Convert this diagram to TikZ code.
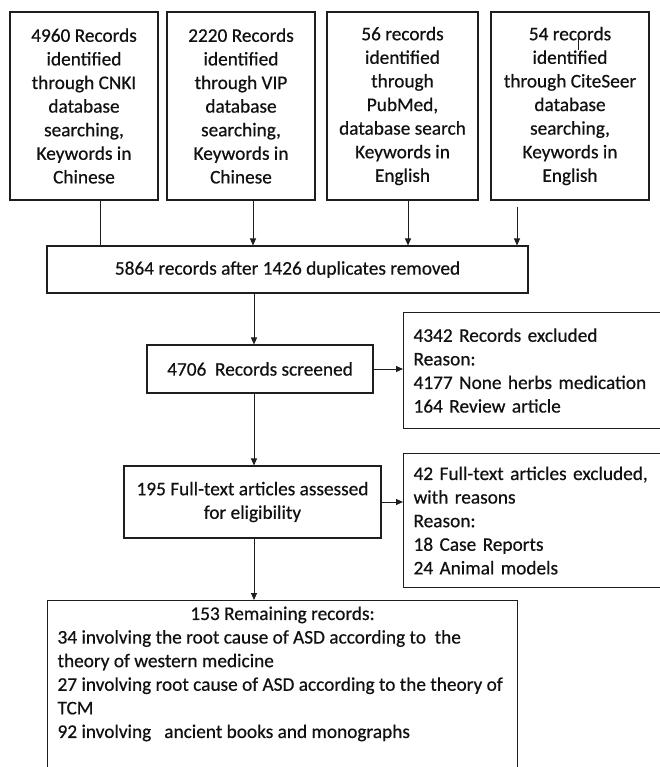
\documentclass[tikz,border=0pt]{standalone}
\usepackage{fontspec}
\setmainfont{Carlito}
\newfontfamily\dgfam[FakeBold=0.5]{Carlito}
\usetikzlibrary{arrows.meta}
\definecolor{linec}{HTML}{1E1E1E}
\definecolor{txt}{HTML}{111111}
\newcommand\dgfont{\dgfam\fontsize{19.3}{23.6}\selectfont}
\begin{document}
\begin{tikzpicture}[x=1pt,y=-1pt,
  box/.style={draw=linec, line width=1.1pt, inner sep=2pt, align=center, font=\dgfont, text=txt},
  lbox/.style={draw=linec, line width=1.1pt, inner xsep=10pt, inner ysep=3pt, align=left, text width=250pt, font=\dgfont, text=txt, anchor=north west},
  arr/.style={draw=linec, line width=1pt, -{Triangle[length=7pt,width=6pt]}},
  ln/.style={draw=linec, line width=1pt}]
\useasboundingbox (0,0) rectangle (660,767);
\fill[white] (0,0) rectangle (660,767);
\clip (0,0) rectangle (660,767);

% top boxes
\node[box, minimum width=148pt, minimum height=188pt] (b1) at (84,106)
  {4960 Records\\identified\\through CNKI\\database\\searching,\\Keywords in\\Chinese};
\node[box, minimum width=148pt, minimum height=188pt] (b2) at (241,106)
  {2220 Records\\identified\\through VIP\\database\\searching,\\Keywords in\\Chinese};
\node[box, minimum width=151pt, minimum height=188pt] (b3) at (402.5,106)
  {56 records\\identified\\through\\PubMed,\\database search\\Keywords in\\English};
\node[box, minimum width=158pt, minimum height=188pt] (b4) at (570,106)
  {54 records\\identified\\through CiteSeer\\database\\searching,\\Keywords in\\English};
\draw[linec, line width=0.8pt] (578,36) -- (578,50);

% merged
\node[box, minimum width=481pt, minimum height=47pt] (m) at (287.5,269.5)
  {5864 records after 1426 duplicates removed};

\coordinate (c4) at (517,207);
\draw[ln] (100,0 |- b1.south) -- (100,0 |- m.north);
\draw[arr] (253,0 |- b2.south) -- (253,0 |- m.north);
\draw[arr] (408,0 |- b3.south) -- (408,0 |- m.north);
\draw[arr] (c4) -- (c4 |- m.north);

% screened
\node[box, minimum width=226pt, minimum height=48pt] (s) at (260,369)
  {4706\ \ Records screened};
\node[lbox, minimum height=116pt] (e1) at (403,312)
  {4342 Records excluded\\Reason:\\4177 None herbs medication\\164 Review article};
\draw[arr] (254,0 |- m.south) -- (254,0 |- s.north);
\draw[arr] (s.east) -- (s.east -| e1.west);

% full text
\node[box, minimum width=257pt, minimum height=72pt] (f) at (252.5,502)
  {195 Full-text articles assessed\\for eligibility};
\node[lbox, minimum height=134pt] (e2) at (403,453)
  {42 Full-text articles excluded,\\with reasons\\Reason:\\18 Case Reports\\24 Animal models};
\draw[arr] (254,0 |- s.south) -- (254,0 |- f.north);
\draw[arr] (f.east) -- (f.east -| e2.west);

% remaining
\node[draw=linec, line width=1.1pt, inner xsep=10pt, inner ysep=6pt, anchor=north west, font=\dgfont, text=txt] (r) at (47,600)
  {\parbox[t][200pt][t]{450pt}{\raggedright
   \makebox[450pt][c]{153 Remaining records:}\\
   34 involving the root cause of ASD according to\ \ the\\
   theory of western medicine\\
   27 involving root cause of ASD according to the theory of\\
   TCM\\
   92 involving\ \ \ ancient books and monographs}};
\draw[arr] (254,0 |- f.south) -- (254,0 |- r.north);
\end{tikzpicture}
\end{document}
